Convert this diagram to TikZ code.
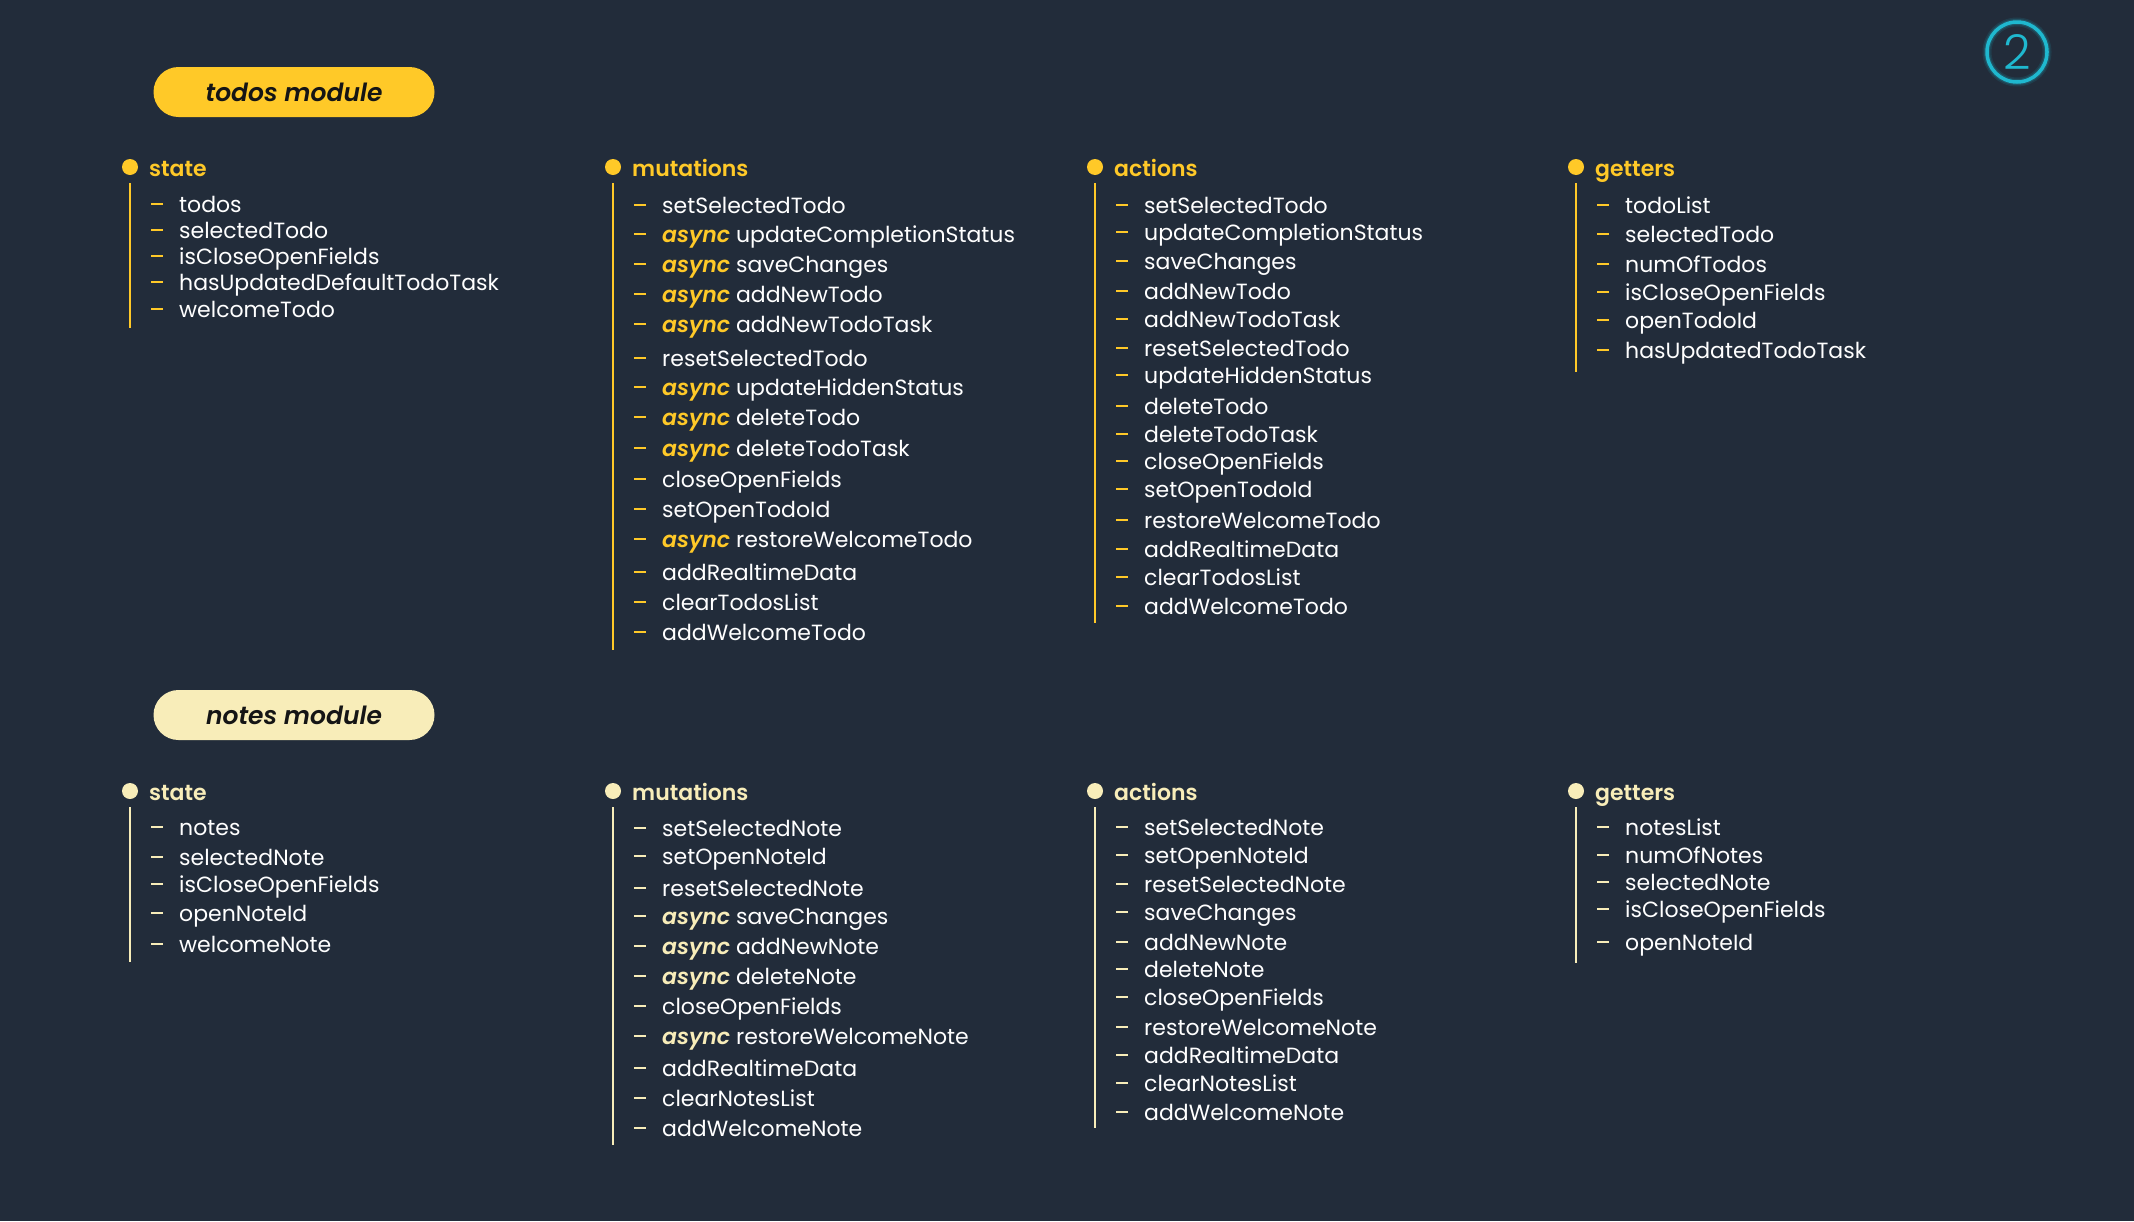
\documentclass[tikz,border=0pt]{standalone}
\usepackage{fontspec}
\setmainfont{Poppins}
\newfontfamily\semib{Poppins SemiBold}
\newfontfamily\semibit{Poppins SemiBold Italic}
\newfontfamily\lightf{Poppins Light}
\usepackage{xcolor}
\usetikzlibrary{positioning,calc}

\definecolor{bg}{HTML}{222C3A}
\definecolor{todoyel}{HTML}{FFC928}
\definecolor{noteyel}{HTML}{F8EDB9}
\definecolor{ringcyan}{HTML}{1FB8CF}
\definecolor{pilltext}{HTML}{151515}
\colorlet{acc}{todoyel}

\tikzset{
  bullet/.style={circle, fill=acc, inner sep=0pt, minimum size=16pt},
  head/.style={text=acc, inner sep=0pt, font=\semib\fontsize{22}{26}\selectfont},
  item/.style={text=white, inner sep=0pt, font=\fontsize{22}{26}\selectfont},
  rail/.style={draw=acc, line width=2.6pt},
  dashmark/.style={draw=acc, line width=2.8pt},
  pill/.style={rounded corners=25pt, minimum width=281pt, minimum height=50pt,
    inner sep=0pt, text=pilltext, font=\semibit\fontsize{25}{29}\selectfont}
}

% async keyword in the module colour
\newcommand\as{{\semibit\color{acc}async}\ }

% #1 name, #2 x, #3 y, #4 header, #5 end of rail, #6 items y/text
\newcommand\modcol[6]{%
  \node[bullet] (#1) at (#2,#3) {};
  \node[head, anchor=base west] (#1-h) at (#2+19,#3+9) {#4};
  \coordinate (#1-end) at (#2,#5);
  \draw[rail] ([yshift=-8pt]#1.south) -- (#1-end);
  \foreach \y/\txt [count=\i] in {#6}
           {
             \draw[dashmark] (#2+21,\y) -- (#2+33,\y);
             \node[item, anchor=base west] (#1-\i) at (#2+49,\y+8) {\txt};
           }
}

\begin{document}
\begin{tikzpicture}[x=1pt,y=-1pt]
  \fill[bg] (0,0) rectangle (2134,1221);

  % step number
  \draw[ringcyan, line width=9pt, opacity=0.12] (2017,52) circle (30);
  \draw[ringcyan, line width=6pt, opacity=0.2] (2017,52) circle (30);
  \node[draw=ringcyan, line width=3.5pt, circle, minimum size=60pt, inner sep=0pt,
        text=ringcyan, font=\lightf\fontsize{48}{48}\selectfont] (step2) at (2017,52) {2};

  % todos module
  \begin{scope}
    \colorlet{acc}{todoyel}
    \node[pill, fill=todoyel] (todos) at (294,92) {todos module};
    \modcol{tstate}{130}{167}{state}{328}
      {204/todos, 230/selectedTodo, 256/isCloseOpenFields,
       282/hasUpdatedDefaultTodoTask, 309/welcomeTodo}
    \modcol{tmut}{613}{167}{mutations}{650}
      {205/setSelectedTodo, 234/\as updateCompletionStatus, 264/\as saveChanges,
       294/\as addNewTodo, 324/\as addNewTodoTask, 358/resetSelectedTodo,
       387/\as updateHiddenStatus, 417/\as deleteTodo, 448/\as deleteTodoTask,
       479/closeOpenFields, 509/setOpenTodoId, 539/\as restoreWelcomeTodo,
       572/addRealtimeData, 602/clearTodosList, 632/addWelcomeTodo}
    \modcol{tact}{1095}{167}{actions}{623}
      {205/setSelectedTodo, 232/updateCompletionStatus, 261/saveChanges,
       291/addNewTodo, 319/addNewTodoTask, 348/resetSelectedTodo,
       375/updateHiddenStatus, 406/deleteTodo, 434/deleteTodoTask,
       461/closeOpenFields, 489/setOpenTodoId, 520/restoreWelcomeTodo,
       549/addRealtimeData, 577/clearTodosList, 606/addWelcomeTodo}
    \modcol{tget}{1576}{167}{getters}{372}
      {205/todoList, 234/selectedTodo, 264/numOfTodos,
       292/isCloseOpenFields, 320/openTodoId, 350/hasUpdatedTodoTask}
  \end{scope}

  % notes module
  \begin{scope}
    \colorlet{acc}{noteyel}
    \node[pill, fill=noteyel] (notes) at (294,715) {notes module};
    \modcol{nstate}{130}{791}{state}{962}
      {827/notes, 857/selectedNote, 884/isCloseOpenFields,
       913/openNoteId, 944/welcomeNote}
    \modcol{nmut}{613}{791}{mutations}{1145}
      {828/setSelectedNote, 856/setOpenNoteId, 888/resetSelectedNote,
       916/\as saveChanges, 946/\as addNewNote, 976/\as deleteNote,
       1006/closeOpenFields, 1036/\as restoreWelcomeNote, 1068/addRealtimeData,
       1098/clearNotesList, 1128/addWelcomeNote}
    \modcol{nact}{1095}{791}{actions}{1128}
      {827/setSelectedNote, 855/setOpenNoteId, 884/resetSelectedNote,
       912/saveChanges, 942/addNewNote, 969/deleteNote,
       997/closeOpenFields, 1027/restoreWelcomeNote, 1055/addRealtimeData,
       1083/clearNotesList, 1112/addWelcomeNote}
    \modcol{nget}{1576}{791}{getters}{963}
      {827/notesList, 855/numOfNotes, 882/selectedNote,
       909/isCloseOpenFields, 942/openNoteId}
  \end{scope}
\end{tikzpicture}
\end{document}
